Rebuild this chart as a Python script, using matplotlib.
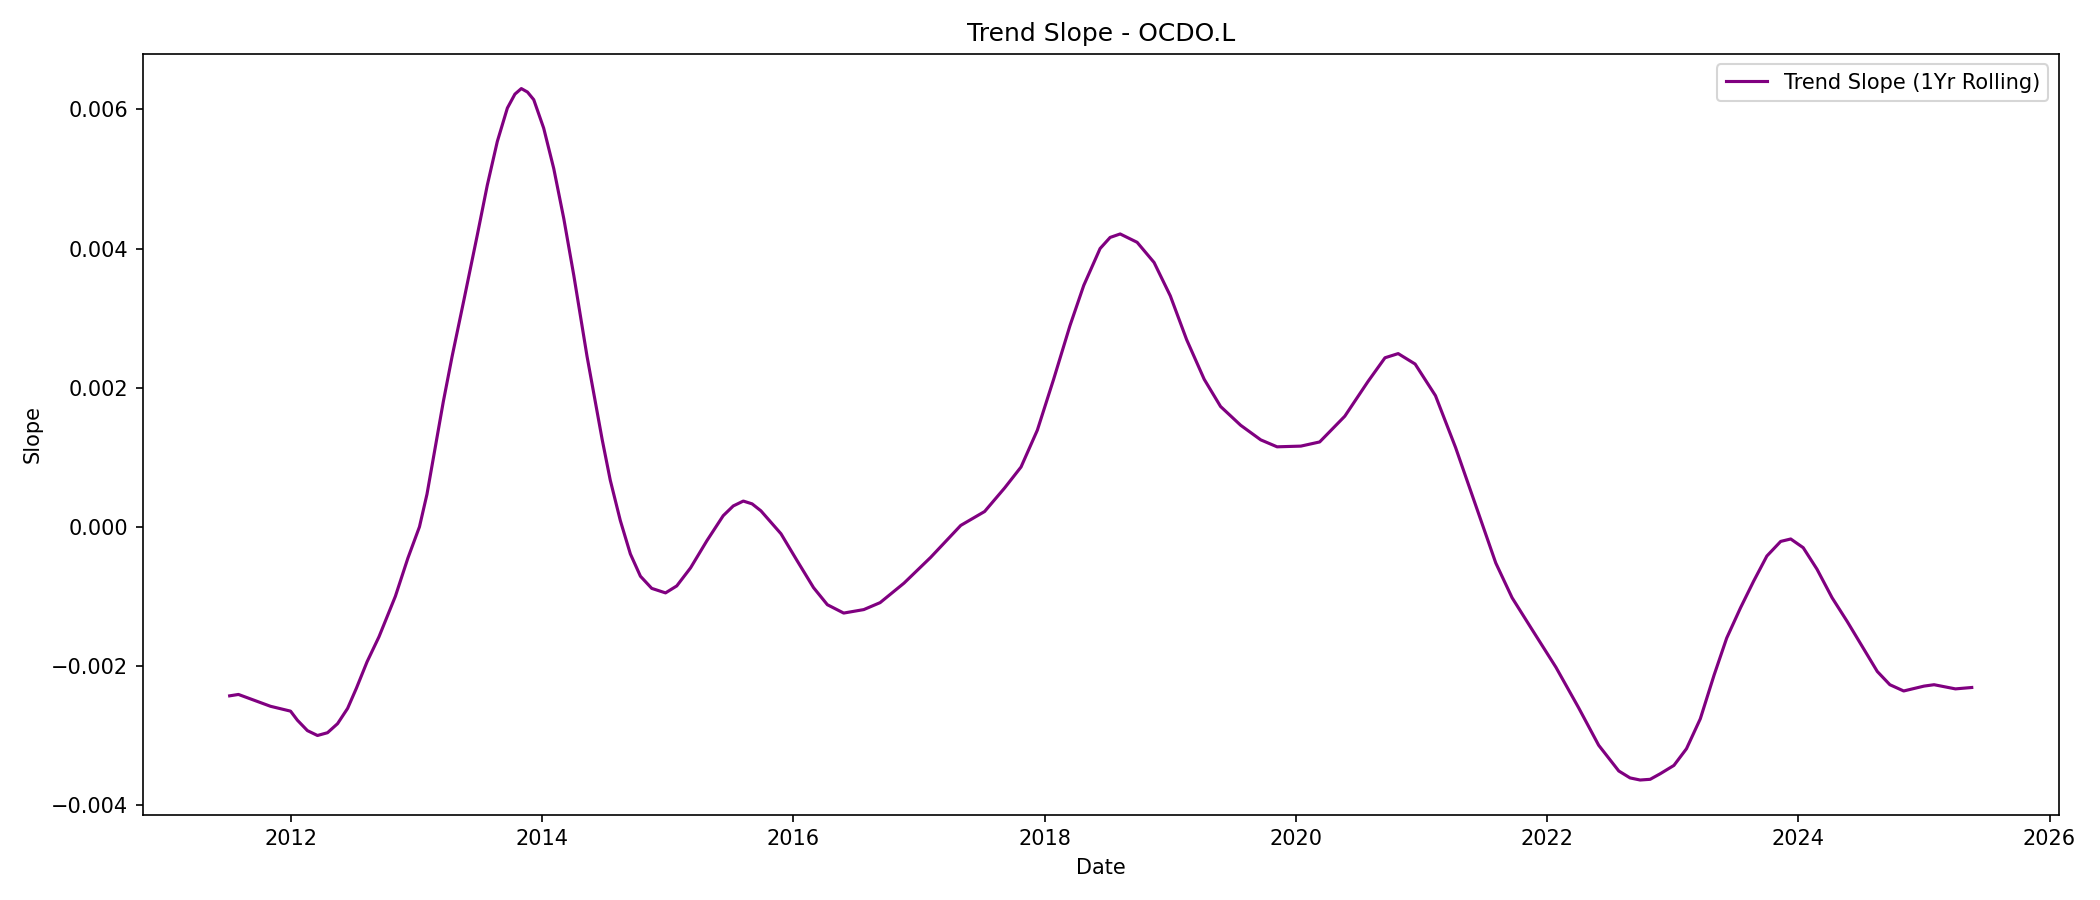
import matplotlib
matplotlib.use("Agg")
import matplotlib.pyplot as plt
import pandas as pd

# decimal years
years = [
    2011.51, 2011.58, 2011.70, 2011.835, 2011.995, 2012.05, 2012.13, 2012.21,
    2012.29, 2012.37, 2012.45, 2012.52, 2012.605, 2012.70, 2012.83, 2012.93,
    2013.02, 2013.08, 2013.21, 2013.28, 2013.375, 2013.48, 2013.56, 2013.64, 2013.72,
    2013.78, 2013.831, 2013.88, 2013.93, 2014.01, 2014.09, 2014.17, 2014.25,
    2014.355, 2014.476, 2014.54, 2014.62, 2014.70, 2014.78, 2014.87, 2014.98,
    2015.07, 2015.18, 2015.31, 2015.44, 2015.52, 2015.60, 2015.67, 2015.74,
    2015.90, 2016.03, 2016.16, 2016.27, 2016.40, 2016.56, 2016.69, 2016.88,
    2017.09, 2017.33, 2017.52, 2017.68, 2017.81, 2017.94, 2018.07, 2018.20,
    2018.31, 2018.44, 2018.52, 2018.60, 2018.735, 2018.87, 2019.00, 2019.13,
    2019.27, 2019.40, 2019.56, 2019.72, 2019.85, 2020.04, 2020.19, 2020.39,
    2020.575, 2020.71, 2020.815, 2020.95, 2021.11, 2021.27, 2021.43, 2021.59,
    2021.72, 2021.88, 2022.07, 2022.25, 2022.41, 2022.57, 2022.66, 2022.74,
    2022.82, 2022.90, 2023.01, 2023.11, 2023.22, 2023.33, 2023.43, 2023.54,
    2023.645, 2023.75, 2023.86, 2023.94, 2024.04, 2024.15, 2024.27, 2024.39,
    2024.51, 2024.63, 2024.73, 2024.84, 2025.00, 2025.08, 2025.25, 2025.38,
]
# slope values in units of 1e-3
slope = [
    -2.43, -2.41, -2.49, -2.58, -2.65, -2.78, -2.93, -3.00,
    -2.96, -2.83, -2.61, -2.32, -1.94, -1.58, -1.00, -0.45,
    0.0, 0.47, 1.80, 2.45, 3.27, 4.19, 4.91, 5.54, 6.02,
    6.22, 6.30, 6.25, 6.14, 5.73, 5.15, 4.43, 3.61,
    2.45, 1.25, 0.67, 0.09, -0.39, -0.71, -0.885, -0.95,
    -0.85, -0.59, -0.20, 0.16, 0.30, 0.37, 0.33, 0.23,
    -0.10, -0.49, -0.875, -1.12, -1.24, -1.19, -1.09, -0.81,
    -0.44, 0.02, 0.22, 0.56, 0.86, 1.39, 2.12, 2.89,
    3.47, 4.00, 4.16, 4.21, 4.09, 3.80, 3.32, 2.69,
    2.12, 1.73, 1.46, 1.25, 1.15, 1.16, 1.22, 1.59,
    2.09, 2.43, 2.49, 2.34, 1.885, 1.14, 0.31, -0.52,
    -1.02, -1.48, -2.02, -2.60, -3.14, -3.51, -3.61, -3.64,
    -3.63, -3.55, -3.43, -3.19, -2.76, -2.13, -1.60, -1.165,
    -0.78, -0.42, -0.21, -0.175, -0.30, -0.61, -1.02, -1.36,
    -1.72, -2.08, -2.27, -2.36, -2.29, -2.27, -2.33, -2.31,
]

dates = [pd.Timestamp(int(y), 1, 1) + pd.Timedelta(days=(y - int(y)) * 365.25) for y in years]
values = [s * 1e-3 for s in slope]

fig, ax = plt.subplots(figsize=(14, 6), dpi=150)
ax.plot(dates, values, color="purple", label="Trend Slope (1Yr Rolling)")
ax.set_title("Trend Slope - OCDO.L")
ax.set_xlabel("Date")
ax.set_ylabel("Slope")
ax.legend(loc="upper right")
fig.tight_layout()
fig.savefig("out.png", dpi=150)
